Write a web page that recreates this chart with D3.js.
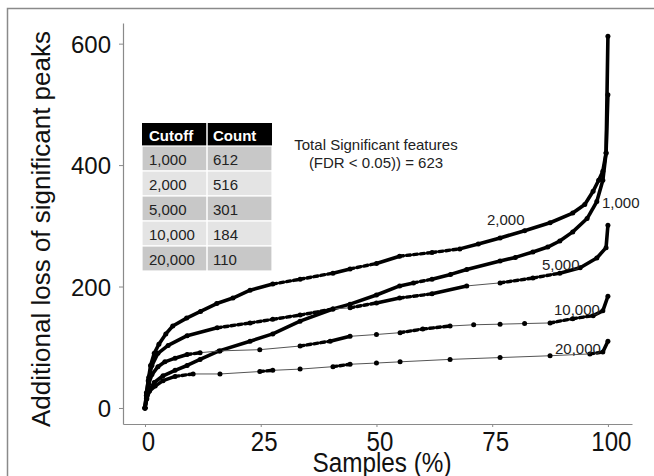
<!DOCTYPE html>
<html>
<head>
  <meta charset="utf-8">
  <script src="https://cdn.jsdelivr.net/npm/d3@7"></script>
  <style>
    body { margin: 0; background: #fff; }
    svg text { font-family: "Liberation Sans", Arial, sans-serif; }
  </style>
</head>
<body>
  <div id="chart"></div>
  <script>
    // cutoff table
    var cutoffs = ["1,000", "2,000", "5,000", "10,000", "20,000"];
    var counts = [612, 516, 301, 184, 110];

    // curves: [samples %, additional loss]
    var curve1000 = [[0, 0], [0.4, 15], [1, 30], [2, 42], [3.9, 53], [6.5, 62], [9.1, 70], [11.9, 80], [16, 94], [22.7, 110], [27.6, 122], [33.5, 143], [40.6, 163], [44.3, 171], [50, 186], [55, 201], [58, 206], [62, 212], [66, 220], [69.5, 228], [76.7, 242], [80, 248], [83.8, 257], [87, 265], [89.6, 275], [92.4, 290], [95.5, 312], [97.6, 340], [98.9, 375], [99.6, 420], [100, 612]];
    var curve2000 = [[0, 0], [0.3, 20], [0.7, 45], [1.2, 70], [2, 90], [3, 105], [4.5, 122], [6, 135], [9, 148], [12, 159], [15.5, 172], [19, 181], [22.7, 194], [27.6, 204], [33.5, 212], [40.6, 222], [44.3, 229], [50, 238], [55, 250], [62, 256], [68, 262], [72, 270], [76.7, 280], [82, 292], [87.5, 305], [92.4, 321], [95, 335], [96.8, 357], [98, 375], [98.9, 390], [99.6, 420], [100, 516]];
    var curve5000 = [[0, 0], [0.3, 25], [0.8, 50], [1.5, 70], [2.8, 90], [5, 103], [9.1, 119], [15.6, 132], [22.7, 140], [27.6, 146], [33.5, 153], [40.6, 163], [44.3, 165], [50, 173], [55, 181], [62, 188], [69.5, 201], [76.7, 206], [83.8, 214], [89.6, 222], [94, 231], [97.6, 247], [99.6, 264], [100, 301]];
    var curve10000 = [[0, 0], [0.3, 20], [0.8, 40], [1.5, 55], [2.8, 68], [4.3, 76], [6.5, 82], [9.1, 88], [11.9, 91], [16.2, 94], [24.8, 96], [33.5, 102], [40, 110], [44.3, 118], [50, 121], [55.1, 124], [60, 130], [65.9, 135], [71, 137], [76.7, 138], [82, 139], [87.5, 140], [92.4, 147], [96.8, 152], [98.9, 160], [100, 184]];
    var curve20000 = [[0, 0], [0.3, 15], [1, 28], [2.2, 36], [3.9, 45], [6.5, 52], [10.4, 56], [16.2, 56], [24.8, 60], [27.6, 62], [33.5, 64], [40.6, 68], [44.3, 72], [50, 74], [55.1, 76], [65.9, 80], [76.7, 83], [87.5, 86], [96.1, 89], [98.9, 92], [100, 110]];
    var curves = [curve1000, curve2000, curve5000, curve10000, curve20000];

    var xTicks = [0, 25, 50, 75, 100];
    var yTicks = [0, 200, 400, 600];

    var width = 654, height = 476;

    var svg = d3.select("#chart").append("svg")
      .attr("width", width)
      .attr("height", height);

    var x = d3.scaleLinear().domain([-4.75, 105.2]).range([123, 632]);
    var y = d3.scaleLinear().domain([-26.4, 634]).range([424, 23]);

    // outer frame (only left/top visible)
    svg.append("path")
      .attr("d", "M7.5,480V8.5H660")
      .attr("fill", "none")
      .attr("stroke", "#8a8a8a")
      .attr("stroke-width", 1.5);

    // axes
    var xAxis = svg.append("g").attr("transform", "translate(0,424)")
      .call(d3.axisBottom(x).tickValues(xTicks).tickSize(3).tickSizeOuter(0).tickFormat(d3.format("d")));
    var yAxis = svg.append("g").attr("transform", "translate(123,0)")
      .call(d3.axisLeft(y).tickValues(yTicks).tickSize(4).tickSizeOuter(0).tickFormat(d3.format("d")));

    [xAxis, yAxis].forEach(function (a) {
      a.select(".domain").attr("stroke", "#8a8a8a").attr("stroke-width", 1.2);
      a.selectAll(".tick line").attr("stroke", "#8a8a8a");
      a.selectAll("text").attr("fill", "#111").attr("font-family", "Liberation Sans, Arial, sans-serif");
    });

    xAxis.selectAll(".tick text")
      .attr("font-size", 28)
      .attr("y", 0).attr("dy", 0)
      .attr("transform", "translate(3,27) scale(0.86,1)");

    yAxis.selectAll(".tick text")
      .attr("font-size", 24)
      .attr("x", -12)
      .attr("dy", "0.36em");

    // axis titles
    svg.append("text")
      .attr("transform", "translate(382,472) scale(0.9,1)")
      .attr("text-anchor", "middle")
      .attr("font-size", 27)
      .attr("fill", "#111")
      .text("Samples (%)");

    svg.append("text")
      .attr("transform", "translate(49.5,229) rotate(-90)")
      .attr("text-anchor", "middle")
      .attr("font-size", 26)
      .attr("fill", "#111")
      .text("Additional loss of significant peaks");

    // curves: thick where values change quickly, thin where they are sparse
    var g = svg.append("g");
    curves.forEach(function (pts) {
      for (var i = 1; i < pts.length; i++) {
        var a = pts[i - 1], b = pts[i];
        var s = (b[1] - a[1]) / Math.max(b[0] - a[0], 0.001);
        var seg = g.append("line")
          .attr("x1", x(a[0])).attr("y1", y(a[1]))
          .attr("x2", x(b[0])).attr("y2", y(b[1]))
          .attr("stroke-linecap", "round");
        if (s >= 1.6) {
          seg.attr("stroke", "#000").attr("stroke-width", 3.6);
        } else if (s >= 0.7) {
          seg.attr("stroke", "#000").attr("stroke-width", 3.4).attr("stroke-dasharray", "4,3");
        } else {
          seg.attr("stroke", "#555").attr("stroke-width", 1);
        }
      }
      g.selectAll(null).data(pts).enter().append("circle")
        .attr("cx", function (d) { return x(d[0]); })
        .attr("cy", function (d) { return y(d[1]); })
        .attr("r", 2.5)
        .attr("fill", "#000");
    });

    // curve labels
    var lab = svg.append("g").attr("font-size", 15).attr("fill", "#222");
    lab.append("text").attr("x", 602).attr("y", 208).text(cutoffs[0]);
    lab.append("text").attr("x", 487).attr("y", 225).text(cutoffs[1]);
    lab.append("text").attr("x", 542).attr("y", 270).text(cutoffs[2]);
    lab.append("text").attr("x", 554).attr("y", 315).text(cutoffs[3]);
    lab.append("text").attr("x", 555).attr("y", 354).text(cutoffs[4]);

    // annotation
    var note = svg.append("text").attr("font-size", 15).attr("fill", "#222").attr("text-anchor", "middle");
    note.append("tspan").attr("x", 376).attr("y", 150).text("Total Significant features");
    note.append("tspan").attr("x", 376).attr("y", 167.5).text("(FDR < 0.05)) = 623");

    // table
    var tx = 142, tc = 207, tr = 272, tableTop = 123, headH = 23, rowH = 25;
    var tbl = svg.append("g");
    tbl.append("rect").attr("x", tx).attr("y", tableTop).attr("width", tr - tx).attr("height", headH).attr("fill", "#000");
    tbl.append("line").attr("x1", tc).attr("x2", tc).attr("y1", tableTop).attr("y2", tableTop + headH).attr("stroke", "#fff").attr("stroke-width", 1.5);
    tbl.append("text").attr("x", tx + 7).attr("y", tableTop + 18).attr("font-size", 15).attr("font-weight", "bold").attr("fill", "#fff").text("Cutoff");
    tbl.append("text").attr("x", tc + 6).attr("y", tableTop + 18).attr("font-size", 15).attr("font-weight", "bold").attr("fill", "#fff").text("Count");

    var rows = tbl.selectAll(".row").data(cutoffs).enter().append("g")
      .attr("class", "row")
      .attr("transform", function (d, i) { return "translate(0," + (tableTop + headH + i * rowH) + ")"; });
    rows.append("rect").attr("x", tx).attr("width", tr - tx).attr("height", rowH)
      .attr("fill", function (d, i) { return i % 2 === 0 ? "#c8c8c8" : "#e4e4e4"; })
      .attr("stroke", "#fff").attr("stroke-width", 1.2);
    rows.append("line").attr("x1", tc).attr("x2", tc).attr("y1", 0).attr("y2", rowH).attr("stroke", "#fff").attr("stroke-width", 1.5);
    rows.append("text").attr("x", tx + 7).attr("y", 18.5).attr("font-size", 15).attr("fill", "#222").text(function (d) { return d; });
    rows.append("text").attr("x", tc + 6).attr("y", 18.5).attr("font-size", 15).attr("fill", "#222").text(function (d, i) { return counts[i]; });
  </script>
</body>
</html>
